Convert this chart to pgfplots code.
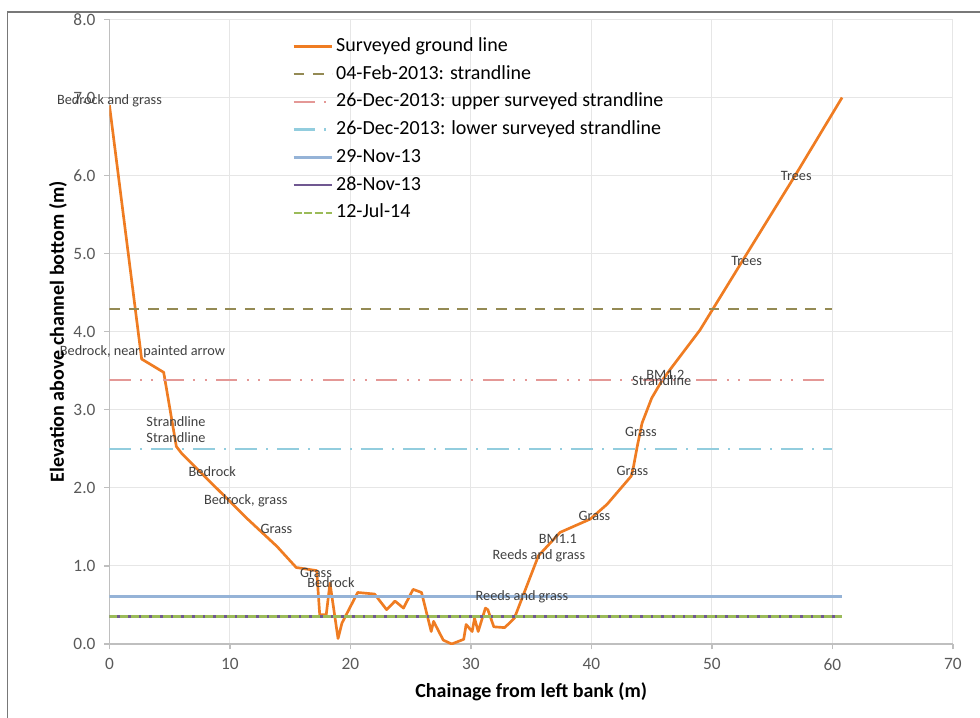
\documentclass[border=0pt]{standalone}
\usepackage{pgfplots}
\pgfplotsset{compat=1.18}
\usepackage{fontspec}
\setmainfont{Carlito}
\definecolor{groundC}{RGB}{239,124,34}
\definecolor{oliveC}{RGB}{148,138,84}
\definecolor{pinkC}{RGB}{228,152,150}
\definecolor{aquaC}{RGB}{146,205,222}
\definecolor{blueC}{RGB}{149,179,215}
\definecolor{purpleC}{RGB}{112,88,145}
\definecolor{greenC}{RGB}{155,187,89}
\definecolor{tickC}{RGB}{89,89,89}
\definecolor{annC}{RGB}{64,64,64}
\definecolor{gridC}{RGB}{230,230,230}
\definecolor{axisC}{RGB}{191,191,191}
\definecolor{frameC}{RGB}{120,120,120}
\begin{document}
\begin{tikzpicture}
\path[use as bounding box] (-82.1pt,-54.75pt) rectangle (652.9pt,483pt);
\draw[line width=1.3pt, color=frameC] (-76.5pt,-60pt) -- (-76.5pt,474pt) -- (660pt,474pt);
\begin{axis}[
  at={(0pt,0pt)}, anchor=south west,
  scale only axis, width=632.6pt, height=468.4pt,
  xmin=0, xmax=70, ymin=0, ymax=8,
  clip mode=individual,
  xtick={0,10,...,70}, ytick={0,1,...,8},
  axis x line*=bottom, axis y line*=left,
  axis line style={color=axisC, line width=0.9pt},
  tick align=outside, major tick length=4pt,
  tick style={color=axisC, line width=0.9pt},
  grid=major, major grid style={color=gridC, line width=0.8pt},
  /pgf/number format/assume math mode=true,
  yticklabel style={/pgf/number format/fixed, /pgf/number format/fixed zerofill, /pgf/number format/precision=1, xshift=-3pt},
  xticklabel style={yshift=-3.5pt},
  tick label style={font=\fontsize{13}{15}\selectfont, color=tickC},
  every axis x label/.style={at={(axis description cs:0.5,-0.0769)}, anchor=center},
  every axis y label/.style={at={(axis description cs:-0.061,0.5)}, rotate=90, anchor=center},
  label style={font=\fontsize{15}{18}\selectfont\bfseries},
  xlabel={Chainage from left bank (m)},
  ylabel={Elevation above channel bottom (m)},
  legend style={at={(axis description cs:0.2116,0.977)}, anchor=north west, draw=none, fill=none,
    font=\fontsize{15}{18}\selectfont, row sep=6.3pt, column sep=2pt,
    nodes={inner sep=0pt, text height=11pt, text depth=3.5pt}},
  legend cell align=left,
  legend image code/.code={\draw[#1] (0pt,0pt) -- (29pt,0pt);},
]
\addplot[color=groundC, line width=2pt, line join=round] coordinates {
(0,6.9) (2.67,3.65) (4.5,3.48) (5.55,2.53) (6.0,2.44) (8.6,2.04) (11.4,1.61) (13.9,1.25)
(15.5,0.98) (17.2,0.94) (17.45,0.375) (17.99,0.375) (18.3,0.78) (18.97,0.07) (19.3,0.27)
(20.6,0.66) (22.0,0.64) (23.0,0.44) (23.7,0.55) (24.4,0.46) (25.2,0.70) (25.9,0.66)
(26.7,0.16) (26.9,0.29) (27.7,0.05) (28.4,0.0) (29.4,0.06) (29.6,0.25) (30.1,0.16)
(30.3,0.33) (30.6,0.16) (31.2,0.46) (31.4,0.44) (31.9,0.22) (32.8,0.21) (33.6,0.33)
(35.6,1.13) (37.4,1.43) (39.9,1.60) (41.3,1.79) (43.3,2.15) (43.5,2.28) (43.8,2.53)
(44.2,2.83) (45.0,3.15) (45.8,3.36) (46.5,3.51) (49.0,4.02) (52.9,5.0) (56.9,6.0) (60.8,7.0)
};
\addlegendentry{Surveyed ground line}
\addplot[color=oliveC, line width=1.9pt, dash pattern=on 8pt off 6.5pt] coordinates {(0,4.29) (60,4.29)};
\addlegendentry{04-Feb-2013: strandline}
\addplot[color=pinkC, line width=1.9pt, dash pattern=on 16pt off 7pt on 1.5pt off 7pt on 1.5pt off 7pt] coordinates {(0,3.38) (60,3.38)};
\addlegendentry{26-Dec-2013: upper surveyed strandline}
\addplot[color=aquaC, line width=1.9pt, dash pattern=on 16pt off 7pt on 1.5pt off 7pt] coordinates {(0,2.5) (60,2.5)};
\addlegendentry{26-Dec-2013: lower surveyed strandline}
\addplot[color=blueC, line width=1.9pt] coordinates {(0,0.61) (60.8,0.61)};
\addlegendentry{29-Nov-13}
\addplot[color=purpleC, line width=1.9pt] coordinates {(0,0.35) (60.8,0.35)};
\addlegendentry{28-Nov-13}
\addplot[color=greenC, line width=1.9pt, dash pattern=on 6pt off 2pt] coordinates {(0,0.35) (60.8,0.35)};
\addlegendentry{12-Jul-14}
\begin{scope}[every node/.style={font=\fontsize{10.7}{12}\selectfont, text=annC, inner sep=0pt}]
\node at (axis cs:0.0,6.96) {Bedrock and grass};
\node at (axis cs:2.74,3.74) {Bedrock, near painted arrow};
\node at (axis cs:5.52,2.85) {Strandline};
\node at (axis cs:5.52,2.65) {Strandline};
\node at (axis cs:8.53,2.21) {Bedrock};
\node at (axis cs:11.31,1.84) {Bedrock, grass};
\node at (axis cs:13.86,1.48) {Grass};
\node at (axis cs:17.14,0.91) {Grass};
\node at (axis cs:18.38,0.79) {Bedrock};
\node at (axis cs:34.23,0.61) {Reeds and grass};
\node at (axis cs:37.22,1.35) {BM1.1};
\node at (axis cs:35.64,1.13) {Reeds and grass};
\node at (axis cs:40.25,1.64) {Grass};
\node at (axis cs:43.4,2.22) {Grass};
\node at (axis cs:44.1,2.72) {Grass};
\node at (axis cs:46.14,3.45) {BM1.2};
\node at (axis cs:45.83,3.38) {Strandline};
\node at (axis cs:52.88,4.91) {Trees};
\node at (axis cs:57.0,6.0) {Trees};
\end{scope}
\end{axis}
\end{tikzpicture}
\end{document}
